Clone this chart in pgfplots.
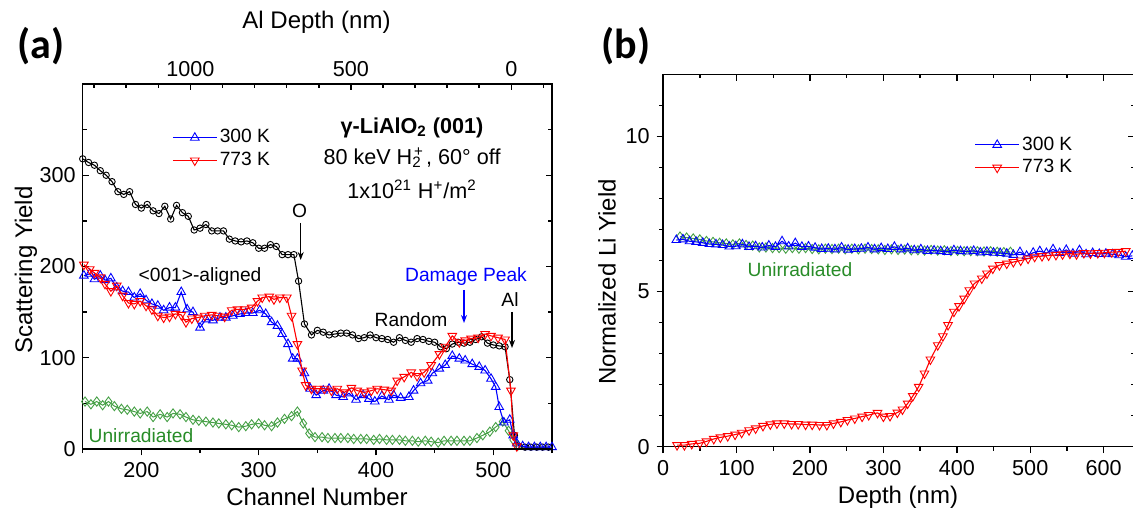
\documentclass[border=0pt]{standalone}
\usepackage{fontspec}
\setmainfont{Liberation Sans}
\newfontfamily\panelfont{Carlito}
\usepackage{pgfplots}
\pgfplotsset{compat=1.18}
\usetikzlibrary{arrows.meta}
\definecolor{ugreen}{RGB}{70,160,70}
\definecolor{utext}{RGB}{40,140,40}
\pgfplotsset{
  base/.style={scale only axis, anchor=south west,
    axis line style={line width=0.75pt},
    major tick length=3.2pt, minor tick length=2pt,
    tick style={line width=0.75pt, black},
    tick label style={font=\fontsize{10.8}{12}\selectfont},
    /pgf/number format/assume math mode=true,
    /pgf/number format/set thousands separator={},
    clip=false},
  legend image code/.code={\draw[mark repeat=2,mark phase=2] plot coordinates {(0pt,0pt) (11pt,0pt) (22pt,0pt)};},
  blue300/.style={blue, line width=0.55pt, mark=triangle, mark size=2.5pt, mark options={solid, line width=0.45pt}},
  red773/.style={red, line width=0.55pt, mark=triangle, mark size=2.5pt, mark options={solid, rotate=180, line width=0.45pt}},
  blackr/.style={black, line width=0.55pt, mark=o, mark size=1.6pt, mark options={solid, line width=0.45pt}},
  greenu/.style={ugreen, line width=0.5pt, mark=diamond, mark size=2.3pt, mark options={solid, line width=0.45pt}},
}
\begin{document}
\begin{tikzpicture}
\path[use as bounding box] (0,0) rectangle (566.5pt,256.5pt);
% ---------------- panel (a) main ----------------
\begin{axis}[base, at={(41.35pt,32pt)}, width=234.65pt, height=182.5pt,
  xmin=150, xmax=550, ymin=0, ymax=400,
  xtick=\empty, ytick={0,100,200,300}, minor ytick={50,150,250,350},
  ytick pos=both, yticklabel pos=left, tick align=inside,
  clip mode=individual,
  legend style={draw=none, fill=none, at={(0.19,0.883)}, anchor=north west,
    font=\fontsize{9.6}{11}\selectfont, row sep=0.8pt, inner sep=0pt, nodes={inner sep=1.2pt}},
  legend cell align=left]
\addplot[blackr, forget plot] coordinates {
(150,318)(155,314)(160,311)(165,305)(170,300)(175,293)(180,282)(185,279)(190,282)(195,268)
(200,264)(205,268)(210,261)(215,258)(220,266)(225,252)(230,267)(235,259)(240,255)(245,240)
(250,242)(255,246)(260,239)(265,239)(270,239)(275,230)(280,228)(285,227)(290,228)(295,226)
(300,220)(305,220)(310,224)(315,222)(320,213)(325,213)(330,213)(334,184)(339,137)(345,125)
(350,130)(355,128)(360,125)(365,126)(370,127)(375,127)(380,125)(385,121)(390,122)(395,125)
(400,122)(405,121)(410,120)(415,117)(420,122)(425,119)(430,117)(435,121)(440,120)(445,118)
(450,117)(455,112)(460,110)(465,115)(470,117)(475,116)(480,117)(485,120)(490,123)(495,116)
(500,114)(505,113)(510,112)(514,76)(518,15)(522,3)(527,2)(532,2)(537,2)(542,2)(547,2)};
\addplot[greenu, forget plot] coordinates {
(152,52)(157,49)(162,52)(167,48)(172,52)(177,47)(183,44)(188,43)(194,41)(199,39)
(205,41)(210,35)(216,38)(222,35)(227,39)(233,38)(238,35)(244,32)(249,31)(255,30)
(261,29)(266,28)(272,27)(277,26)(283,24)(289,25)(294,27)(300,28)(305,26)(311,25)
(316,29)(322,33)(328,36)(333,41)(338,28)(343,17)(348,13)(354,13)(359,12)(365,12)
(370,12)(376,12)(381,11)(387,11)(392,11)(398,10)(403,11)(409,10)(414,10)(420,10)
(425,9)(431,9)(436,8)(442,9)(447,8)(453,7)(458,9)(464,9)(469,9)(475,9)
(480,9)(486,12)(491,15)(497,19)(502,24)(508,30)(513,20)(517,10)(521,4)};
\addplot[blue300] coordinates {
(151,190)(156,192)(160,186)(165,190)(169,185)(174,187)(179,177)(184,173)(189,172)(194,166)
(199,170)(204,163)(209,159)(214,157)(219,152)(224,155)(229,155)(234,172)(239,153)(244,150)
(250,133)(255,142)(261,141)(267,144)(272,144)(278,146)(284,148)(289,149)(295,149)(301,152)
(306,148)(311,139)(316,135)(320,126)(325,115)(329,99)(333,99)(339,83)(344,66)(349,59)
(355,64)(360,66)(366,59)(372,57)(377,61)(383,54)(389,59)(394,55)(399,52)(405,58)
(411,54)(415,59)(421,56)(428,57)(432,64)(438,72)(444,75)(448,83)(454,88)(459,92)
(465,102)(471,99)(476,97)(482,93)(488,90)(493,86)(498,77)(502,68)(505,46)(509,29)
(514,32)(517,15)(520,6)(525,3)(530,2)(535,2)(540,2)(545,2)(550,2)};
\addlegendentry{300 K}
\addplot[red773] coordinates {
(151,202)(156,197)(160,193)(165,188)(169,181)(174,173)(179,179)(184,168)(189,160)(194,159)
(199,162)(204,157)(209,153)(214,146)(219,144)(224,145)(229,148)(234,147)(238,139)(243,143)
(248,144)(254,146)(260,147)(265,146)(271,145)(277,152)(282,153)(288,153)(294,155)(299,162)
(303,166)(309,167)(313,164)(318,166)(324,166)(328,146)(333,115)(337,86)(340,70)(345,66)
(350,66)(356,66)(362,64)(367,66)(373,62)(379,67)(384,64)(390,62)(396,64)(401,66)
(407,65)(413,64)(418,75)(424,79)(430,84)(435,80)(441,84)(447,92)(454,104)(459,112)
(465,124)(471,117)(476,119)(481,121)(487,122)(493,126)(498,124)(504,122)(510,120)(515,64)
(517,15)(520,3)};
\addlegendentry{773 K}
\end{axis}
% bottom axis of (a), outward ticks
\begin{axis}[base, at={(41.35pt,32pt)}, width=234.65pt, height=182.5pt,
  xmin=150, xmax=550, ymin=0, ymax=400,
  axis x line*=bottom, axis y line=none, tick align=outside,
  xtick={200,300,400,500}, minor xtick={150,250,350,450,550}]
\addplot[draw=none, forget plot] coordinates {(200,10)};
\end{axis}
% top axis of (a): Al depth
\begin{axis}[base, at={(41.35pt,32pt)}, width=234.65pt, height=182.5pt,
  xmin=-126.9, xmax=1335.7, x dir=reverse, ymin=0, ymax=400,
  axis x line*=top, axis y line=none, tick align=inside,
  xtick={0,500,1000}, minor xtick={-100,100,200,300,400,600,700,800,900,1100,1200,1300}]
\addplot[draw=none, forget plot] coordinates {(500,10)};
\end{axis}
% ---------------- panel (b) ----------------
\begin{axis}[base, at={(331.55pt,33.15pt)}, width=235.7pt, height=186.2pt,
  xmin=0, xmax=642, ymin=0, ymax=12,
  axis x line*=bottom, axis y line*=left, tick align=outside,
  xtick={0,100,...,600}, minor xtick={50,150,...,550},
  ytick={0,5,10}, minor ytick={1,2,3,4,6,7,8,9,11},
  clip mode=individual,
  legend style={draw=none, fill=none, at={(0.66,0.84)}, anchor=north west,
    font=\fontsize{9.6}{11}\selectfont, row sep=0.8pt, inner sep=0pt, nodes={inner sep=1.2pt}},
  legend cell align=left]
\addplot[greenu, forget plot] coordinates {
(23,6.77)(32,6.74)(41,6.71)(50,6.68)(59,6.63)(68,6.60)(77,6.57)(86,6.55)(95,6.52)(104,6.55)
(113,6.50)(122,6.48)(131,6.42)(140,6.42)(149,6.40)(158,6.40)(167,6.38)(176,6.40)(185,6.38)(194,6.40)
(203,6.37)(212,6.36)(221,6.38)(230,6.37)(239,6.38)(248,6.36)(257,6.38)(266,6.36)(275,6.38)(284,6.37)
(293,6.36)(302,6.34)(311,6.36)(320,6.34)(329,6.35)(338,6.33)(347,6.33)(356,6.32)(365,6.34)(374,6.32)
(383,6.33)(392,6.30)(401,6.31)(410,6.30)(419,6.30)(428,6.30)(437,6.29)(446,6.30)(455,6.28)(464,6.27)(473,6.28)};
\addplot[blue300] coordinates {
(18,6.66)(27,6.68)(36,6.62)(45,6.60)(54,6.57)(63,6.53)(72,6.52)(81,6.50)(90,6.45)(99,6.46)
(108,6.52)(117,6.44)(126,6.46)(135,6.42)(144,6.48)(153,6.44)(162,6.62)(171,6.45)(180,6.56)(189,6.44)
(198,6.45)(207,6.41)(216,6.37)(225,6.38)(234,6.36)(243,6.42)(252,6.35)(261,6.37)(270,6.38)(279,6.42)
(288,6.36)(297,6.40)(306,6.37)(315,6.44)(324,6.36)(333,6.39)(342,6.33)(351,6.36)(360,6.31)(369,6.32)
(378,6.30)(387,6.28)(396,6.33)(405,6.30)(414,6.29)(423,6.31)(432,6.26)(441,6.28)(450,6.25)(459,6.24)
(468,6.22)(477,6.18)(486,6.27)(495,6.15)(504,6.25)(513,6.30)(522,6.24)(531,6.36)(540,6.24)(549,6.34)
(558,6.22)(567,6.33)(576,6.20)(585,6.24)(594,6.21)(603,6.22)(612,6.20)(621,6.17)(630,6.12)(639,6.15)};
\addlegendentry{300 K}
\addplot[red773] coordinates {
(19,0.05)(29,0.05)(39,0.09)(50,0.11)(59,0.17)(69,0.25)(78,0.30)(88,0.34)(98,0.39)(107,0.45)
(117,0.53)(126,0.59)(136,0.67)(146,0.72)(155,0.75)(165,0.75)(175,0.73)(184,0.73)(194,0.71)(203,0.71)
(213,0.70)(223,0.70)(232,0.75)(242,0.80)(251,0.86)(261,0.91)(271,0.97)(280,1.02)(292,1.09)(300,0.97)
(309,0.99)(319,1.10)(326,1.20)(333,1.39)(340,1.63)(348,1.93)(356,2.36)(364,2.81)(374,3.27)(381,3.56)
(388,3.92)(396,4.35)(403,4.53)(410,4.77)(417,5.04)(424,5.26)(434,5.42)(441,5.58)(449,5.74)(458,5.85)
(468,5.90)(477,5.95)(487,6.00)(497,6.06)(506,6.12)(516,6.14)(525,6.16)(535,6.18)(544,6.20)(554,6.22)
(563,6.20)(573,6.24)(582,6.23)(592,6.24)(601,6.25)(611,6.27)(620,6.28)(630,6.30)};
\addlegendentry{773 K}
\end{axis}
\begin{axis}[base, at={(331.55pt,33.15pt)}, width=235.7pt, height=186.2pt,
  xmin=0, xmax=642, ymin=0, ymax=12,
  axis x line*=top, axis y line*=right, tick align=inside,
  xtick={0,100,...,600}, minor xtick={50,150,...,550},
  ytick={0,5,10}, minor ytick={1,2,3,4,6,7,8,9,11},
  xticklabels={}, yticklabels={}]
\addplot[draw=none, forget plot] coordinates {(100,1)};
\end{axis}
% ---------------- labels and annotations ----------------
\node[font=\fontsize{12}{14}\selectfont] at (158.25pt,245.5pt) {Al Depth (nm)};
\node[font=\fontsize{12}{14}\selectfont] at (158.5pt,8pt) {Channel Number};
\node[font=\fontsize{12}{14}\selectfont, rotate=90] at (13pt,121.5pt) {Scattering Yield};
\node[font=\fontsize{12}{14}\selectfont, rotate=90] at (303.5pt,115.5pt) {Normalized Li Yield};
\node[font=\fontsize{12}{14}\selectfont] at (449pt,8pt) {Depth (nm)};
\node[font=\panelfont\bfseries\fontsize{21}{23}\selectfont] at (20.5pt,233.5pt) {(a)};
\node[font=\panelfont\bfseries\fontsize{21}{23}\selectfont] at (313pt,233.5pt) {(b)};
\node[font=\bfseries\fontsize{10.8}{12}\selectfont] at (206pt,192.5pt) {γ-LiAlO\textsubscript{2} (001)};
\node[font=\fontsize{10.8}{12}\selectfont] at (206pt,177.5pt) {80 keV H\textsubscript{2}\kern-0.35em\textsuperscript{+}\kern0.1em, 60° off};
\node[font=\fontsize{10.8}{12}\selectfont] at (206pt,162pt) {1x10\textsuperscript{21} H\textsuperscript{+}/m\textsuperscript{2}};
\node[font=\fontsize{9.6}{11}\selectfont] at (149.75pt,151pt) {O};
\draw[-{Stealth[length=4pt,width=3pt]}, line width=0.6pt] (150.35pt,145pt) -- (150.35pt,126.5pt);
\node[font=\fontsize{9.6}{11}\selectfont] at (100pt,118pt) {<001>-aligned};
\node[font=\fontsize{9.6}{11}\selectfont, text=blue] at (233pt,118pt) {Damage Peak};
\draw[-{Stealth[length=4pt,width=3pt]}, line width=0.6pt, blue] (232pt,111.5pt) -- (232pt,95pt);
\node[font=\fontsize{9.6}{11}\selectfont] at (205.5pt,96.5pt) {Random};
\node[font=\fontsize{9.6}{11}\selectfont] at (255pt,106.5pt) {Al};
\draw[-{Stealth[length=4pt,width=3pt]}, line width=0.6pt] (256pt,100.5pt) -- (256pt,82.5pt);
\node[font=\fontsize{9.6}{11}\selectfont, text=utext] at (70.5pt,38.5pt) {Unirradiated};
\node[font=\fontsize{9.6}{11}\selectfont, text=utext] at (400pt,121.5pt) {Unirradiated};
\end{tikzpicture}
\end{document}
